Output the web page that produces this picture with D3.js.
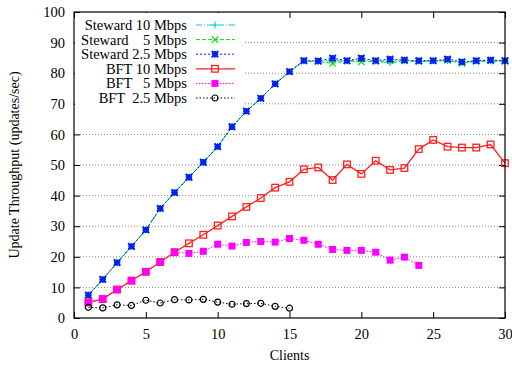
<!DOCTYPE html>
<html>
<head>
<meta charset="utf-8">
<script src="https://cdn.jsdelivr.net/npm/d3@7"></script>
<style>
  body { margin: 0; background: #fff; }
  svg text { font-family: "Liberation Serif", "DejaVu Serif", serif; }
</style>
</head>
<body>
<svg id="chart" width="512" height="370"></svg>
<script>
// data
const clients = d3.range(1, 31);
const xTicks = [0, 5, 10, 15, 20, 25, 30];
const yTicks = [0, 10, 20, 30, 40, 50, 60, 70, 80, 90, 100];

const ramp = [7.5, 12.6, 18.1, 23.4, 28.8, 35.8, 41.0, 46.0, 50.9, 56.0, 62.5, 67.6, 71.8, 76.5, 80.5];
const steward10 = ramp.concat([84.0, 83.9, 84.1, 84.0, 84.3, 83.9, 83.4, 84.0, 83.9, 84.0, 84.0, 83.6, 84.0, 83.9, 84.0]);
const steward5 = ramp.concat([84.0, 83.8, 83.2, 84.0, 83.7, 83.9, 84.0, 84.0, 83.8, 84.0, 84.2, 83.2, 83.9, 84.0, 83.9]);
const steward25 = ramp.concat([84.1, 84.0, 84.9, 84.1, 84.9, 84.1, 84.6, 84.3, 84.1, 84.1, 84.6, 83.7, 84.1, 84.3, 84.1]);
const bft10 = [5.1, 6.2, 9.3, 12.2, 15.1, 18.3, 21.5, 24.4, 27.2, 30.2, 33.2, 36.3, 39.2, 42.6, 44.5,
               48.6, 49.2, 45.1, 50.2, 47.1, 51.4, 48.4, 49.0, 55.2, 58.2, 56.0, 55.7, 55.7, 56.7, 50.6];
const bft5 = [5.1, 6.2, 9.3, 12.2, 15.1, 18.3, 21.5, 21.1, 21.8, 24.1, 23.5, 24.7, 25.0, 24.8, 26.0,
              25.4, 24.1, 22.4, 22.1, 22.1, 21.5, 18.9, 19.9, 17.2];
const bft25 = [3.5, 3.3, 4.3, 4.1, 5.8, 4.9, 6.0, 5.9, 6.1, 5.2, 4.5, 4.7, 4.8, 3.8, 3.2];

const series = [
  { name: "Steward 10 Mbps", values: steward10, color: "#00c8e8", dash: "6,2,1,2", width: 1, marker: "plus" },
  { name: "Steward    5 Mbps", values: steward5, color: "#00e000", dash: "4,2", width: 1, marker: "cross" },
  { name: "Steward 2.5 Mbps", values: steward25, color: "#0020f0", dash: "2,2", width: 1, marker: "star" },
  { name: "BFT 10 Mbps", values: bft10, color: "#ff2020", dash: null, width: 1.3, marker: "square" },
  { name: "BFT   5 Mbps", values: bft5, color: "#ff00ff", dash: "1.5,1.5", width: 1, marker: "fsquare" },
  { name: "BFT  2.5 Mbps", values: bft25, color: "#000000", dash: "1.5,2", width: 1, marker: "circle" }
];

const svg = d3.select("#chart");
const margin = { left: 74, right: 7, top: 12, bottom: 52 };
const W = 512, H = 370;

const x = d3.scaleLinear().domain([0, 30]).range([margin.left, W - margin.right]);
const y = d3.scaleLinear().domain([0, 100]).range([H - margin.bottom, margin.top]);

// grid lines
svg.append("g")
  .selectAll("line")
  .data(yTicks.filter(d => d > 0 && d < 100))
  .enter().append("line")
  .attr("x1", x(0)).attr("x2", x(30))
  .attr("y1", d => y(d)).attr("y2", d => y(d))
  .attr("stroke", "#888").attr("stroke-width", 1)
  .attr("stroke-dasharray", "1,2");

// axes with mirrored ticks
const tickLen = 6;
svg.append("g")
  .attr("transform", `translate(0,${y(0)})`)
  .call(d3.axisBottom(x).tickValues(xTicks).tickSize(-tickLen).tickPadding(11))
  .call(g => g.select(".domain").remove());
svg.append("g")
  .attr("transform", `translate(0,${y(100)})`)
  .call(d3.axisTop(x).tickValues(xTicks).tickSize(-tickLen).tickFormat(""))
  .call(g => g.select(".domain").remove());
svg.append("g")
  .attr("transform", `translate(${x(0)},0)`)
  .call(d3.axisLeft(y).tickValues(yTicks).tickSize(-tickLen).tickPadding(9))
  .call(g => g.select(".domain").remove());
svg.append("g")
  .attr("transform", `translate(${x(30)},0)`)
  .call(d3.axisRight(y).tickValues(yTicks).tickSize(-tickLen).tickFormat(""))
  .call(g => g.select(".domain").remove());
svg.selectAll(".tick text").attr("font-size", 14.5).attr("fill", "#000");
svg.selectAll(".tick line").attr("stroke", "#000");

// legend background hides the grid
svg.append("rect")
  .attr("x", x(0) + 1).attr("y", y(100) + 1)
  .attr("width", 168).attr("height", 94)
  .attr("fill", "#fff");

function drawMarker(g, type, color) {
  const s = 3.2;
  if (type === "plus") {
    g.append("path").attr("d", `M${-s},0H${s}M0,${-s}V${s}`).attr("stroke", color).attr("stroke-width", 1.2);
  } else if (type === "cross") {
    g.append("path").attr("d", `M${-s},${-s}L${s},${s}M${-s},${s}L${s},${-s}`).attr("stroke", color).attr("stroke-width", 1.2);
  } else if (type === "star") {
    g.append("path").attr("d", `M${-s},0H${s}M0,${-s}V${s}M${-s},${-s}L${s},${s}M${-s},${s}L${s},${-s}`)
      .attr("stroke", color).attr("stroke-width", 2);
  } else if (type === "square") {
    g.append("rect").attr("x", -3.3).attr("y", -3.3).attr("width", 6.6).attr("height", 6.6)
      .attr("fill", "none").attr("stroke", color).attr("stroke-width", 1.3);
  } else if (type === "fsquare") {
    g.append("rect").attr("x", -3.5).attr("y", -3.5).attr("width", 7).attr("height", 7).attr("fill", color);
  } else if (type === "circle") {
    g.append("circle").attr("r", 3).attr("fill", "none").attr("stroke", color).attr("stroke-width", 1.2);
  }
}

const line = d3.line().x(d => x(d[0])).y(d => y(d[1]));

// series
series.forEach(s => {
  const pts = s.values.map((v, i) => [clients[i], v]);
  svg.append("path")
    .datum(pts)
    .attr("d", line)
    .attr("fill", "none")
    .attr("stroke", s.color)
    .attr("stroke-width", s.width)
    .attr("stroke-dasharray", s.dash);
  svg.append("g").selectAll("g")
    .data(pts)
    .enter().append("g")
    .attr("transform", d => `translate(${x(d[0])},${y(d[1])})`)
    .each(function () { drawMarker(d3.select(this), s.marker, s.color); });
});

// legend
const leg = svg.append("g");
series.forEach((s, i) => {
  const ly = 25 + i * 14.6;
  leg.append("text")
    .attr("x", 187).attr("y", ly + 5)
    .attr("text-anchor", "end")
    .attr("font-size", 14.5)
    .style("white-space", "pre")
    .text(s.name);
  leg.append("line")
    .attr("x1", 196).attr("x2", 235).attr("y1", ly).attr("y2", ly)
    .attr("stroke", s.color).attr("stroke-width", s.width)
    .attr("stroke-dasharray", s.dash);
  drawMarker(leg.append("g").attr("transform", `translate(215,${ly})`), s.marker, s.color);
});

// frame
svg.append("rect")
  .attr("x", x(0)).attr("y", y(100))
  .attr("width", x(30) - x(0)).attr("height", y(0) - y(100))
  .attr("fill", "none").attr("stroke", "#000").attr("stroke-width", 1.2);

// axis titles
svg.append("text")
  .attr("x", (x(0) + x(30)) / 2).attr("y", 360)
  .attr("text-anchor", "middle").attr("font-size", 14)
  .text("Clients");
svg.append("text")
  .attr("transform", `translate(19,${(y(0) + y(100)) / 2}) rotate(-90)`)
  .attr("text-anchor", "middle").attr("font-size", 14)
  .text("Update Throughput (updates/sec)");
</script>
</body>
</html>
